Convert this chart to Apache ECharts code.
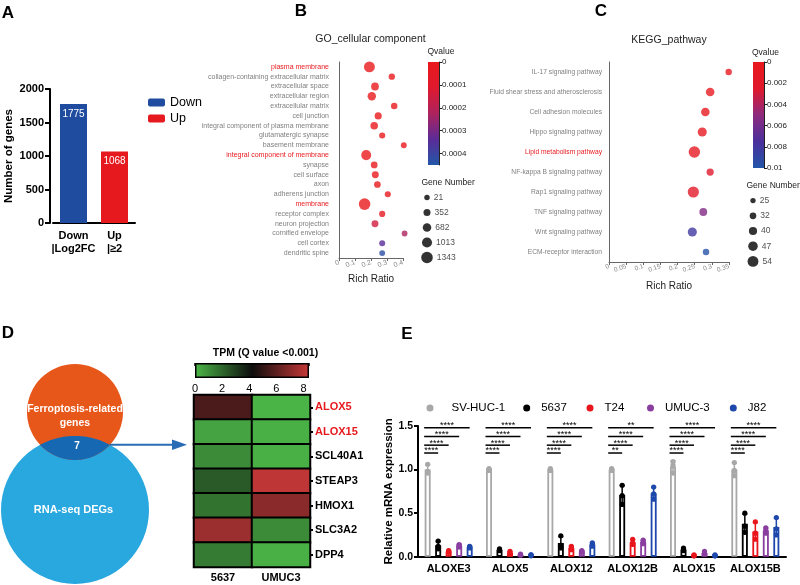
<!DOCTYPE html>
<html>
<head>
<meta charset="utf-8">
<script src="https://cdn.jsdelivr.net/npm/echarts@6/dist/echarts.min.js"></script>
<style>
  html, body { margin: 0; padding: 0; background: #fff; }
  #chart { width: 800px; height: 585px; }
</style>
</head>
<body>
<div id="chart"></div>
<script>
// ---- A: number of DEGs
var degNames = ['Down', 'Up'];
var degCats = ['Down\n|Log2FC', 'Up\n|\u22652'];
var degCounts = [1775, 1068];

// ---- B: GO cellular component
var goTerms = ['plasma membrane', 'collagen-containing extracellular matrix', 'extracellular space',
  'extracellular region', 'extracellular matrix', 'cell junction', 'integral component of plasma membrane',
  'glutamatergic synapse', 'basement membrane', 'integral component of membrane', 'synapse', 'cell surface',
  'axon', 'adherens junction', 'membrane', 'receptor complex', 'neuron projection', 'cornified envelope',
  'cell cortex', 'dendritic spine'];
var goRatio = [0.19, 0.33, 0.225, 0.205, 0.345, 0.245, 0.22, 0.27, 0.405, 0.17, 0.22, 0.227, 0.24, 0.305,
  0.16, 0.27, 0.225, 0.41, 0.27, 0.27];
var goQ = [0, 0, 0, 0, 0, 0, 0, 0, 0, 0, 0, 0, 0, 0.00002, 0, 0.00003, 0.00015, 0.000225, 0.00034, 0.00043];
var goGenes = [1200, 200, 520, 650, 230, 380, 480, 160, 100, 1013, 300, 330, 280, 150, 1343, 170, 330, 80, 130, 110];
var goRed = ['plasma membrane', 'integral component of membrane', 'membrane'];
var goSizeKey = [21, 352, 682, 1013, 1343];

// ---- C: KEGG pathway
var keggTerms = ['IL-17 signaling pathway', 'Fluid shear stress and atherosclerosis', 'Cell adhesion molecules',
  'Hippo signaling pathway', 'Lipid metabolism pathway', 'NF-kappa B signaling pathway', 'Rap1 signaling pathway',
  'TNF signaling pathway', 'Wnt signaling pathway', 'ECM-receptor interaction'];
var keggRatio = [0.349, 0.295, 0.281, 0.272, 0.249, 0.295, 0.246, 0.275, 0.243, 0.283];
var keggQ = [0.0001, 0.0003, 0.0005, 0.0008, 0.001, 0.0025, 0.002, 0.0055, 0.0082, 0.0097];
var keggGenes = [31, 42, 42, 45, 57, 35, 56, 38, 45, 31];
var keggRed = ['Lipid metabolism pathway'];
var keggSizeKey = [25, 32, 40, 47, 54];

// ---- D: heatmap TPM
var hmCols = ['5637', 'UMUC3'];
var hmRows = ['ALOX5', 'ALOX15', 'SCL40A1', 'STEAP3', 'HMOX1', 'SLC3A2', 'DPP4'];
var hm5637 = [5.6, 0.5, 1.1, 2.3, 1.7, 7.4, 1.5];
var hmUMUC3 = [0.1, 0.2, 0.2, 8.2, 7.0, 1.1, 0.2];
var hmRed = ['ALOX5', 'ALOX15'];

// ---- E: qPCR
var genes = ['ALOXE3', 'ALOX5', 'ALOX12', 'ALOX12B', 'ALOX15', 'ALOX15B'];
var cellLines = ['SV-HUC-1', '5637', 'T24', 'UMUC-3', 'J82'];
var repSVHUC1 = [[1.06, 0.98, 0.96], [1.01, 1.0, 0.99], [1.01, 1.0, 0.99], [1.01, 1.0, 0.99], [1.09, 1.05, 0.96], [1.08, 0.99, 0.93]];
var rep5637 = [[0.18, 0.12, 0.09], [0.09, 0.08, 0.07], [0.24, 0.13, 0.1], [0.82, 0.7, 0.6], [0.1, 0.08, 0.07], [0.5, 0.35, 0.28]];
var repT24 = [[0.07, 0.06, 0.05], [0.06, 0.04, 0.03], [0.12, 0.1, 0.08], [0.2, 0.16, 0.14], [0.02, 0.01, 0.01], [0.4, 0.27, 0.2]];
var repUMUC3 = [[0.14, 0.13, 0.11], [0.03, 0.02, 0.02], [0.07, 0.06, 0.05], [0.19, 0.17, 0.15], [0.06, 0.04, 0.03], [0.33, 0.3, 0.27]];
var repJ82 = [[0.12, 0.11, 0.1], [0.02, 0.02, 0.01], [0.16, 0.14, 0.12], [0.8, 0.72, 0.66], [0.02, 0.01, 0.01], [0.45, 0.32, 0.25]];
var sigLabels = [
  ['****', '****', '****', '****'],
  ['****', '****', '****', '****'],
  ['****', '****', '****', '****'],
  ['**', '****', '****', '**'],
  ['****', '****', '****', '****'],
  ['****', '****', '****', '****']
];
var sigLevels = [1.19, 1.28, 1.38, 1.48];

// ---- styling
var FONT = 'Liberation Sans, Arial, sans-serif';
var blue = '#1f4c9e', red = '#e5191e';
var lineColors = ['#a8a8a8', '#000000', '#e8161c', '#8a3fa0', '#1f48ac'];
var goQColors = ['#e8191d', '#e0192e', '#ad235e', '#5b2b98', '#2257a8'];
var keggQColors = ['#e8191d', '#e0192c', '#8e2a7e', '#4b2f9c', '#2257a8'];
var hmColors = ['#4cb848', '#0d0d0d', '#c83838'];
var barOffsets = [-21, -10.5, 0, 10.5, 21];

function goSize(n) { return 5.4 + 0.0046 * n; }
function keggSize(n) { return 0.6 + 0.19 * n; }
function gradStops(cols) {
  return cols.map(function (c, i) { return { offset: i / (cols.length - 1), color: c }; });
}
function mean(a) { return (a[0] + a[1] + a[2]) / 3; }
function sd(a) {
  var m = mean(a);
  return Math.sqrt(((a[0] - m) * (a[0] - m) + (a[1] - m) * (a[1] - m) + (a[2] - m) * (a[2] - m)) / 2);
}
function redLabel(list) {
  return function (v) { return list.indexOf(v) >= 0 ? '{r|' + v + '}' : v; };
}

var allReps = [repSVHUC1, rep5637, repT24, repUMUC3, repJ82];

var chart = echarts.init(document.getElementById('chart'));

var hidden = { show: false };
function hiddenAxis(gi, type, extra) {
  var o = { gridIndex: gi, type: type, show: false };
  for (var k in extra) o[k] = extra[k];
  return o;
}

var grids = [
  { left: 53, top: 89, width: 82, height: 134 },      // 0 A
  { left: 339, top: 62, width: 64, height: 196 },     // 1 B
  { left: 428, top: 62, width: 11, height: 103 },     // 2 B colorbar
  { left: 423, top: 190, width: 8, height: 75 },      // 3 B size key
  { left: 609, top: 62, width: 120, height: 200 },    // 4 C
  { left: 753, top: 62, width: 11, height: 106 },     // 5 C colorbar
  { left: 749, top: 193, width: 8, height: 76 },      // 6 C size key
  { left: 194, top: 395, width: 116, height: 172 },   // 7 heatmap
  { left: 195, top: 363, width: 114, height: 15 },    // 8 heatmap colorbar
  { left: 418, top: 426, width: 368, height: 130.7 }  // 9 E
].map(function (g) { g.outerBoundsMode = 'none'; return g; });

var blackAxis = { lineStyle: { color: '#000', width: 2 } };
var grayAxis = { lineStyle: { color: '#666', width: 1 } };

var xAxes = [
  { gridIndex: 0, type: 'category', data: degCats,
    axisLine: blackAxis, axisTick: { alignWithLabel: true, length: 4, lineStyle: { color: '#000', width: 2 } },
    axisLabel: { interval: 0, color: '#000', fontWeight: 'bold', fontSize: 11, lineHeight: 12.5, margin: 7 } },
  { gridIndex: 1, type: 'value', min: 0, max: 0.4, interval: 0.1, splitLine: hidden,
    axisLine: { show: true, lineStyle: { color: '#666', width: 1 } }, axisTick: { show: true, length: 3, lineStyle: { color: '#666' } },
    axisLabel: { color: '#8a8a8a', fontSize: 7, rotate: 20, margin: 4, formatter: function (v) { return +v.toFixed(2) + ''; } },
    name: 'Rich Ratio', nameLocation: 'middle', nameGap: 16, nameTextStyle: { color: '#222', fontSize: 10 } },
  hiddenAxis(2, 'category', { data: ['q'] }),
  hiddenAxis(3, 'value', { min: -1, max: 1 }),
  { gridIndex: 4, type: 'value', min: 0, max: 0.35, interval: 0.05, splitLine: hidden,
    axisLine: { show: true, lineStyle: { color: '#666', width: 1 } }, axisTick: { show: true, length: 3, lineStyle: { color: '#666' } },
    axisLabel: { color: '#8a8a8a', fontSize: 6.5, rotate: 20, margin: 4, formatter: function (v) { return +v.toFixed(2) + ''; } },
    name: 'Rich Ratio', nameLocation: 'middle', nameGap: 19, nameTextStyle: { color: '#222', fontSize: 10 } },
  hiddenAxis(5, 'category', { data: ['q'] }),
  hiddenAxis(6, 'value', { min: -1, max: 1 }),
  { gridIndex: 7, type: 'category', data: hmCols,
    axisLine: blackAxis, axisTick: { alignWithLabel: true, length: 3, lineStyle: { color: '#000', width: 2 } },
    axisLabel: { color: '#000', fontWeight: 'bold', fontSize: 11, margin: 5 } },
  { gridIndex: 8, type: 'value', min: 0, max: 8.4, interval: 2, splitLine: hidden,
    axisLine: hidden, axisTick: hidden, axisLabel: { color: '#000', fontSize: 11, margin: 5 } },
  { gridIndex: 9, type: 'category', data: genes,
    axisLine: blackAxis, axisTick: { alignWithLabel: true, length: 4, lineStyle: { color: '#000', width: 2 } },
    axisLabel: { interval: 0, color: '#000', fontWeight: 'bold', fontSize: 11, margin: 7 } },
  // inside ticks on top of the heatmap colour bar
  { gridIndex: 8, type: 'value', position: 'top', min: 0, max: 8.4, interval: 2, splitLine: hidden,
    axisLine: hidden, axisLabel: hidden, axisTick: { show: true, inside: true, length: 3, lineStyle: { color: '#000', width: 1.5 } } }
];

var yAxes = [
  { gridIndex: 0, type: 'value', min: 0, max: 2000, interval: 500, offset: 3, splitLine: hidden,
    axisLine: { show: true, lineStyle: { color: '#000', width: 2 } },
    axisTick: { show: true, length: 5, lineStyle: { color: '#000', width: 2 } },
    axisLabel: { color: '#000', fontWeight: 'bold', fontSize: 11, margin: 6, formatter: function (v) { return String(v); } },
    name: 'Number of genes', nameLocation: 'middle', nameGap: 35,
    nameTextStyle: { color: '#000', fontWeight: 'bold', fontSize: 11.5 } },
  { gridIndex: 1, type: 'category', data: goTerms, inverse: true,
    axisLine: grayAxis, axisTick: { alignWithLabel: true, length: 4, lineStyle: { color: '#666' } },
    axisLabel: { interval: 0, color: '#808080', fontSize: 7, margin: 10, formatter: redLabel(goRed),
      rich: { r: { color: '#e8191d', fontSize: 7 } } } },
  { gridIndex: 2, type: 'value', min: 0, max: 0.00045, interval: 0.0001, inverse: true, position: 'right',
    splitLine: hidden, axisLine: { show: true, lineStyle: { color: '#222', width: 1 } },
    axisTick: { show: true, length: 3, lineStyle: { color: '#222' } },
    axisLabel: { color: '#222', fontSize: 8, margin: 3, showMaxLabel: false,
      formatter: function (v) { return v === 0 ? '0' : (+v.toFixed(4)) + ''; } } },
  hiddenAxis(3, 'category', { data: goSizeKey.map(String), inverse: true }),
  { gridIndex: 4, type: 'category', data: keggTerms, inverse: true,
    axisLine: grayAxis, axisTick: { alignWithLabel: true, length: 5, lineStyle: { color: '#666' } },
    axisLabel: { interval: 0, color: '#808080', fontSize: 6.7, margin: 7, formatter: redLabel(keggRed),
      rich: { r: { color: '#e8191d', fontSize: 6.7 } } } },
  { gridIndex: 5, type: 'value', min: 0, max: 0.01, interval: 0.002, inverse: true, position: 'right',
    splitLine: hidden, axisLine: { show: true, lineStyle: { color: '#222', width: 1 } },
    axisTick: { show: true, length: 3, lineStyle: { color: '#222' } },
    axisLabel: { color: '#222', fontSize: 8, margin: 3, formatter: function (v) { return v === 0 ? '0' : (+v.toFixed(3)) + ''; } } },
  hiddenAxis(6, 'category', { data: keggSizeKey.map(String), inverse: true }),
  { gridIndex: 7, type: 'category', data: hmRows, inverse: true, position: 'right',
    axisLine: hidden, axisTick: { show: true, alignWithLabel: true, length: 3, lineStyle: { color: '#000', width: 2 } },
    axisLabel: { interval: 0, color: '#000', fontWeight: 'bold', fontSize: 11, margin: 5, formatter: redLabel(hmRed),
      rich: { r: { color: '#e8191d', fontWeight: 'bold', fontSize: 11 } } } },
  hiddenAxis(8, 'category', { data: ['tpm'] }),
  { gridIndex: 9, type: 'value', min: 0, max: 1.5, interval: 0.5, splitLine: hidden,
    axisLine: { show: true, lineStyle: { color: '#000', width: 2 } },
    axisTick: { show: true, length: 4, lineStyle: { color: '#000', width: 2 } },
    axisLabel: { color: '#000', fontWeight: 'bold', fontSize: 10.5, margin: 5, formatter: function (v) { return v.toFixed(1); } },
    name: 'Relative mRNA expression', nameLocation: 'middle', nameGap: 23,
    nameTextStyle: { color: '#000', fontWeight: 'bold', fontSize: 11.5 } }
];

var series = [];

// A bars (0,1)
series.push({ name: 'Down', type: 'bar', xAxisIndex: 0, yAxisIndex: 0, barWidth: 27, barGap: '-100%',
  data: [degCounts[0], '-'], itemStyle: { color: blue },
  label: { show: true, position: 'insideTop', distance: 5, color: '#fff', fontSize: 10 } });
series.push({ name: 'Up', type: 'bar', xAxisIndex: 0, yAxisIndex: 0, barWidth: 27, barGap: '-100%',
  data: ['-', degCounts[1]], itemStyle: { color: red },
  label: { show: true, position: 'insideTop', distance: 5, color: '#fff', fontSize: 10 } });

// B scatter (2)
series.push({ type: 'scatter', xAxisIndex: 1, yAxisIndex: 1, clip: false,
  data: goTerms.map(function (t, i) { return [goRatio[i], t, goQ[i], goGenes[i]]; }),
  symbolSize: function (v) { return goSize(v[3]); } });
// B colour bar (3)
series.push({ type: 'bar', xAxisIndex: 2, yAxisIndex: 2, barWidth: '100%', data: [0.00045], silent: true,
  itemStyle: { color: new echarts.graphic.LinearGradient(0, 0, 0, 1, gradStops(goQColors)) } });
// B size key (4)
series.push({ type: 'scatter', xAxisIndex: 3, yAxisIndex: 3, clip: false,
  data: goSizeKey.map(function (n) { return [0, String(n), n]; }),
  symbolSize: function (v) { return goSize(v[2]); }, itemStyle: { color: '#000' },
  label: { show: true, position: 'right', distance: 4, color: '#222', fontSize: 8.5,
    formatter: function (p) { return p.data[2]; } } });

// C scatter (5)
series.push({ type: 'scatter', xAxisIndex: 4, yAxisIndex: 4, clip: false,
  data: keggTerms.map(function (t, i) { return [keggRatio[i], t, keggQ[i], keggGenes[i]]; }),
  symbolSize: function (v) { return keggSize(v[3]); } });
// C colour bar (6)
series.push({ type: 'bar', xAxisIndex: 5, yAxisIndex: 5, barWidth: '100%', data: [0.01], silent: true,
  itemStyle: { color: new echarts.graphic.LinearGradient(0, 0, 0, 1, gradStops(keggQColors)) } });
// C size key (7)
series.push({ type: 'scatter', xAxisIndex: 6, yAxisIndex: 6, clip: false,
  data: keggSizeKey.map(function (n) { return [0, String(n), n]; }),
  symbolSize: function (v) { return keggSize(v[2]); }, itemStyle: { color: '#000' },
  label: { show: true, position: 'right', distance: 4, color: '#222', fontSize: 8.5,
    formatter: function (p) { return p.data[2]; } } });

// heatmap (8)
var hmData = [];
hmRows.forEach(function (r, i) {
  hmData.push([0, i, hm5637[i]]);
  hmData.push([1, i, hmUMUC3[i]]);
});
series.push({ type: 'heatmap', xAxisIndex: 7, yAxisIndex: 7, data: hmData,
  itemStyle: { borderColor: '#000', borderWidth: 2 } });
// heatmap colour bar (9)
series.push({ type: 'bar', xAxisIndex: 8, yAxisIndex: 8, barWidth: '100%', data: [8.4], silent: true,
  itemStyle: { color: new echarts.graphic.LinearGradient(0, 0, 1, 0, gradStops(hmColors)), borderColor: '#000', borderWidth: 1.5 } });

// E bars (10-14)
cellLines.forEach(function (name, si) {
  series.push({ name: name, type: 'bar', xAxisIndex: 9, yAxisIndex: 9, barWidth: 6, barGap: '75%',
    data: allReps[si].map(function (r) { return +mean(r).toFixed(3); }),
    itemStyle: { color: '#fff', borderColor: lineColors[si], borderWidth: 1.8 }, z: 2 });
});
// E replicate dots + error bars (15-19)
function repRender(si) {
  return function (params, api) {
    var gi = api.value(0), m = api.value(1), s = api.value(2);
    var x = api.coord([gi, m])[0] + barOffsets[si];
    var yHi = api.coord([gi, m + s])[1];
    var yLo = api.coord([gi, Math.max(0, m - s)])[1];
    var col = lineColors[si];
    var kids = [
      { type: 'line', shape: { x1: x, y1: yHi, x2: x, y2: yLo }, style: { stroke: col, lineWidth: 1.5 } },
      { type: 'line', shape: { x1: x - 2.5, y1: yHi, x2: x + 2.5, y2: yHi }, style: { stroke: col, lineWidth: 1.5 } }
    ];
    for (var k = 3; k < 6; k++) {
      var y = api.coord([gi, api.value(k)])[1];
      kids.push({ type: 'circle', shape: { cx: x, cy: y, r: 2.6 }, style: { fill: col } });
    }
    return { type: 'group', children: kids };
  };
}
cellLines.forEach(function (name, si) {
  series.push({ name: name, type: 'custom', xAxisIndex: 9, yAxisIndex: 9, z: 3,
    encode: { x: 0, y: 1 },
    data: allReps[si].map(function (r, gi) { return [gi, mean(r), sd(r), r[0], r[1], r[2]]; }),
    renderItem: repRender(si) });
});
// E significance brackets (20)
series.push({ type: 'custom', xAxisIndex: 9, yAxisIndex: 9, z: 4, silent: true,
  encode: { x: 0, y: 1 },
  data: genes.map(function (g, gi) { return [gi, sigLevels[3]]; }),
  renderItem: function (params, api) {
    var gi = api.value(0);
    var cx = api.coord([gi, 0])[0];
    var kids = [];
    for (var k = 0; k < 4; k++) {
      var y = api.coord([gi, sigLevels[k]])[1];
      var x0 = cx + barOffsets[0] - 3.5, x1 = cx + barOffsets[k + 1];
      kids.push({ type: 'line', shape: { x1: x0, y1: y, x2: x1, y2: y }, style: { stroke: '#000', lineWidth: 1.5 } });
      kids.push({ type: 'text', x: (x0 + x1) / 2, y: y + 2.5,
        style: { text: sigLabels[gi][k], fill: '#000', font: '9px ' + FONT, align: 'center', verticalAlign: 'bottom' } });
    }
    return { type: 'group', children: kids };
  } });

// legends: A, then one per cell line for E
var legDots = [425, 521.7, 585, 645.5, 728.3];
var legends = [{ data: degNames, left: 143, top: 91, orient: 'vertical', icon: 'roundRect',
  itemWidth: 17, itemHeight: 8, itemGap: 3, textStyle: { color: '#000', fontSize: 12.5 }, selectedMode: false }];
cellLines.forEach(function (name, si) {
  legends.push({ data: [{ name: name, icon: 'circle', itemStyle: { color: lineColors[si], borderWidth: 0 } }],
    left: legDots[si] - 3.5, top: 397, itemWidth: 7, itemHeight: 7, selectedMode: false,
    textStyle: { color: '#000', fontSize: 11.5, padding: [0, 0, 0, si === 0 ? 13 : 6] } });
});

// Venn diagram geometry (panel D)
var vTop = { x: 75, y: 412, r: 48 }, vBot = { x: 75, y: 510, r: 74 };
function lensPoints(c1, c2) {
  var d = c2.y - c1.y;
  var a = (d * d + c1.r * c1.r - c2.r * c2.r) / (2 * d);
  var h = Math.sqrt(c1.r * c1.r - a * a);
  var iy = c1.y + a, pts = [], n = 40, i, t;
  var a2s = Math.atan2(iy - c2.y, -h), a2e = Math.atan2(iy - c2.y, h);
  for (i = 0; i <= n; i++) { t = a2s + (a2e - a2s) * i / n; pts.push([c2.x + c2.r * Math.cos(t), c2.y + c2.r * Math.sin(t)]); }
  var a1s = Math.atan2(a, h), a1e = Math.atan2(a, -h);
  for (i = 0; i <= n; i++) { t = a1s + (a1e - a1s) * i / n; pts.push([c1.x + c1.r * Math.cos(t), c1.y + c1.r * Math.sin(t)]); }
  return pts;
}

function txt(x, y, text, font, fill, align) {
  return { type: 'text', x: x, y: y, silent: true,
    style: { text: text, font: font + ' ' + FONT, fill: fill || '#000', align: align || 'center', verticalAlign: 'middle' } };
}

var graphics = [
  txt(8, 13.5, 'A', 'bold 17px'),
  txt(301, 11, 'B', 'bold 17px'),
  txt(601, 11, 'C', 'bold 17px'),
  txt(8, 333, 'D', 'bold 17px'),
  txt(407, 334, 'E', 'bold 17px'),
  txt(370.5, 39, 'GO_cellular component', '10.5px', '#222'),
  txt(669, 40, 'KEGG_pathway', '10.5px', '#222'),
  txt(427.5, 52, 'Qvalue', '8.5px', '#222', 'left'),
  txt(752, 52.5, 'Qvalue', '8.5px', '#222', 'left'),
  txt(421.5, 182.7, 'Gene Number', '8.5px', '#222', 'left'),
  txt(746.5, 185.7, 'Gene Number', '8.5px', '#222', 'left'),
  txt(265.5, 352.7, 'TPM (Q value <0.001)', 'bold 10.5px'),
  { type: 'circle', silent: true, shape: { cx: vBot.x, cy: vBot.y, r: vBot.r }, style: { fill: '#29a7df' } },
  { type: 'circle', silent: true, shape: { cx: vTop.x, cy: vTop.y, r: vTop.r }, style: { fill: '#e8571a' } },
  { type: 'polygon', silent: true, shape: { points: lensPoints(vTop, vBot) }, style: { fill: '#1768b2' } },
  txt(75, 409.5, 'Ferroptosis-related', 'bold 10.5px', '#fff'),
  txt(75, 422.7, 'genes', 'bold 10.5px', '#fff'),
  txt(77, 446.7, '7', 'bold 10px', '#fff'),
  txt(73.5, 510, 'RNA-seq DEGs', 'bold 11px', '#fff'),
  { type: 'line', silent: true, shape: { x1: 110, y1: 444.7, x2: 176, y2: 444.7 }, style: { stroke: '#2a6db5', lineWidth: 2 } },
  { type: 'polygon', silent: true, shape: { points: [[172, 439.5], [187, 444.7], [172, 449.9]] }, style: { fill: '#2a6db5' } }
];

var option = {
  animation: false,
  backgroundColor: '#fff',
  textStyle: { fontFamily: FONT },
  grid: grids,
  xAxis: xAxes,
  yAxis: yAxes,
  legend: legends,
  visualMap: [
    { type: 'continuous', show: false, seriesIndex: 2, dimension: 2, min: 0, max: 0.00045, inRange: { color: goQColors } },
    { type: 'continuous', show: false, seriesIndex: 5, dimension: 2, min: 0, max: 0.01, inRange: { color: keggQColors } },
    { type: 'continuous', show: false, seriesIndex: 8, dimension: 2, min: 0, max: 8.4, inRange: { color: hmColors } }
  ],
  graphic: graphics,
  series: series
};

chart.setOption(option);
</script>
</body>
</html>
